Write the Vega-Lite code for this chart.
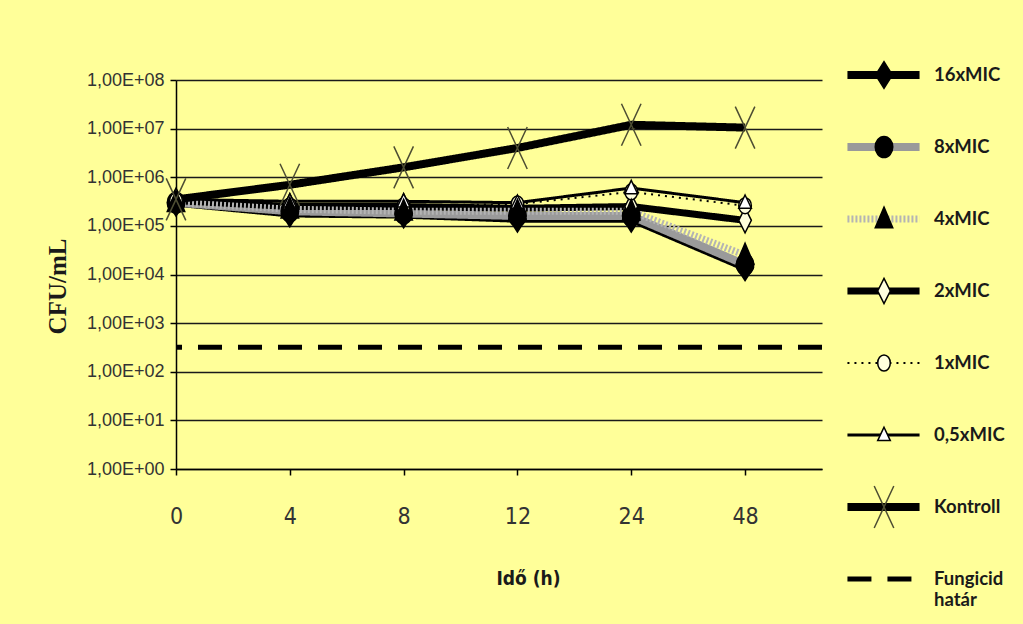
{
  "$schema": "https://vega.github.io/schema/vega-lite/v6.json",
  "width": 646,
  "height": 389,
  "autosize": {"type": "none"},
  "padding": {"left": 176, "top": 80, "right": 201, "bottom": 155},
  "background": "#FFFF99",
  "datasets": {
    "curves": [
      {"series": "16xMIC", "t": 0, "cfu": 300000},
      {"series": "16xMIC", "t": 4, "cfu": 180000},
      {"series": "16xMIC", "t": 8, "cfu": 170000},
      {"series": "16xMIC", "t": 12, "cfu": 140000},
      {"series": "16xMIC", "t": 24, "cfu": 140000},
      {"series": "16xMIC", "t": 48, "cfu": 14000},
      {"series": "8xMIC", "t": 0, "cfu": 300000},
      {"series": "8xMIC", "t": 4, "cfu": 200000},
      {"series": "8xMIC", "t": 8, "cfu": 180000},
      {"series": "8xMIC", "t": 12, "cfu": 160000},
      {"series": "8xMIC", "t": 24, "cfu": 160000},
      {"series": "8xMIC", "t": 48, "cfu": 16000},
      {"series": "2xMIC", "t": 0, "cfu": 330000},
      {"series": "2xMIC", "t": 4, "cfu": 250000},
      {"series": "2xMIC", "t": 8, "cfu": 250000},
      {"series": "2xMIC", "t": 12, "cfu": 230000},
      {"series": "2xMIC", "t": 24, "cfu": 250000},
      {"series": "2xMIC", "t": 48, "cfu": 130000},
      {"series": "1xMIC", "t": 0, "cfu": 330000},
      {"series": "1xMIC", "t": 4, "cfu": 260000},
      {"series": "1xMIC", "t": 8, "cfu": 260000},
      {"series": "1xMIC", "t": 12, "cfu": 280000},
      {"series": "1xMIC", "t": 24, "cfu": 500000},
      {"series": "1xMIC", "t": 48, "cfu": 260000},
      {"series": "0,5xMIC", "t": 0, "cfu": 350000},
      {"series": "0,5xMIC", "t": 4, "cfu": 320000},
      {"series": "0,5xMIC", "t": 8, "cfu": 320000},
      {"series": "0,5xMIC", "t": 12, "cfu": 300000},
      {"series": "0,5xMIC", "t": 24, "cfu": 600000},
      {"series": "0,5xMIC", "t": 48, "cfu": 300000},
      {"series": "4xMIC", "t": 0, "cfu": 300000},
      {"series": "4xMIC", "t": 4, "cfu": 220000},
      {"series": "4xMIC", "t": 8, "cfu": 200000},
      {"series": "4xMIC", "t": 12, "cfu": 200000},
      {"series": "4xMIC", "t": 24, "cfu": 200000},
      {"series": "4xMIC", "t": 48, "cfu": 25000},
      {"series": "Kontroll", "t": 0, "cfu": 350000},
      {"series": "Kontroll", "t": 4, "cfu": 700000},
      {"series": "Kontroll", "t": 8, "cfu": 1600000},
      {"series": "Kontroll", "t": 12, "cfu": 4000000},
      {"series": "Kontroll", "t": 24, "cfu": 12000000},
      {"series": "Kontroll", "t": 48, "cfu": 10500000}
    ],
    "limit": [
      {"series": "Fungicid határ", "cfu": 320}
    ]
  },
  "layer": [
    {
      "data": {"name": "limit"},
      "mark": {"type": "rule"},
      "encoding": {
        "y": {"field": "cfu", "type": "quantitative", "scale": {"type": "log", "domain": [1, 100000000], "nice": false}},
        "color": {"field": "series", "type": "nominal",
          "scale": {"domain": ["16xMIC", "8xMIC", "4xMIC", "2xMIC", "1xMIC", "0,5xMIC", "Kontroll", "Fungicid határ"],
                    "range": ["#000000", "#9a9a9a", "#b4b4b4", "#000000", "#000000", "#000000", "#000000", "#000000"]},
          "legend": {"title": null, "orient": "none", "direction": "vertical", "columns": 1, "legendX": 667, "legendY": -40, "clipHeight": 70, "symbolType": "stroke", "symbolSize": 5200, "rowPadding": 2, "labelOffset": 10, "labelFont": "Lato", "labelFontWeight": "bold", "labelFontSize": 18.5, "labelColor": "#1a1a1a", "padding": 0, "labelExpr": "datum.label == 'Fungicid határ' ? ['Fungicid', 'határ'] : datum.label"}},
        "strokeDash": {"field": "series", "type": "nominal",
          "scale": {"domain": ["16xMIC", "8xMIC", "4xMIC", "2xMIC", "1xMIC", "0,5xMIC", "Kontroll", "Fungicid határ"],
                    "range": [[1, 0], [1, 0], [2, 2], [1, 0], [2, 5], [1, 0], [1, 0], [24, 16]]},
          "legend": {"title": null, "orient": "none", "direction": "vertical", "columns": 1, "legendX": 667, "legendY": -40, "clipHeight": 70, "symbolType": "stroke", "symbolSize": 5200, "rowPadding": 2, "labelOffset": 10, "labelFont": "Lato", "labelFontWeight": "bold", "labelFontSize": 18.5, "labelColor": "#1a1a1a", "padding": 0, "labelExpr": "datum.label == 'Fungicid határ' ? ['Fungicid', 'határ'] : datum.label"}},
        "strokeWidth": {"field": "series", "type": "nominal",
          "scale": {"type": "ordinal", "domain": ["16xMIC", "8xMIC", "4xMIC", "2xMIC", "1xMIC", "0,5xMIC", "Kontroll", "Fungicid határ"],
                    "range": [8, 8, 7, 7, 2, 3, 8, 5]},
          "legend": {"title": null, "orient": "none", "direction": "vertical", "columns": 1, "legendX": 667, "legendY": -40, "clipHeight": 70, "symbolType": "stroke", "symbolSize": 5200, "rowPadding": 2, "labelOffset": 10, "labelFont": "Lato", "labelFontWeight": "bold", "labelFontSize": 18.5, "labelColor": "#1a1a1a", "padding": 0, "labelExpr": "datum.label == 'Fungicid határ' ? ['Fungicid', 'határ'] : datum.label"}}
      }
    },
    {
      "data": {"name": "curves"},
      "mark": {"type": "line"},
      "encoding": {
        "x": {"field": "t", "type": "ordinal", "scale": {"type": "point", "padding": 0.338, "align": 0},
          "axis": {"title": "Idő (h)", "titleFont": "DejaVu Sans Condensed, Liberation Sans, sans-serif", "titleFontWeight": "bold", "titleFontSize": 19, "titleColor": "#1a1a1a", "titleX": 352, "titleY": 109, "titleBaseline": "middle",
                   "labelFont": "DejaVu Sans Condensed, Liberation Sans, sans-serif", "labelFontSize": 23, "labelColor": "#333333", "labelPadding": 30, "labelAngle": 0,
                   "tickSize": 6, "tickColor": "#000000", "tickWidth": 1.5, "domainColor": "#000000", "domainWidth": 1.5, "grid": false}},
        "y": {"field": "cfu", "type": "quantitative", "scale": {"type": "log", "domain": [1, 100000000], "nice": false},
          "axis": {"title": "CFU/mL", "titleFont": "Liberation Serif", "titleFontWeight": "bold", "titleFontSize": 25, "titleColor": "#1a1a1a", "titleX": -119, "titleY": 206, "titleBaseline": "middle",
                   "values": [1, 10, 100, 1000, 10000, 100000, 1000000, 10000000, 100000000],
                   "labelExpr": "'1,00E+0' + format(log(datum.value) / LN10, '.0f')",
                   "labelFont": "Liberation Sans", "labelFontSize": 18, "labelColor": "#333333", "labelPadding": 6,
                   "tickSize": 6, "tickColor": "#000000", "tickWidth": 1.5, "domainColor": "#000000", "domainWidth": 1.5,
                   "grid": true, "gridColor": "#1a1a1a", "gridWidth": 1.5}},
        "color": {"field": "series", "type": "nominal",
          "scale": {"domain": ["16xMIC", "8xMIC", "4xMIC", "2xMIC", "1xMIC", "0,5xMIC", "Kontroll", "Fungicid határ"],
                    "range": ["#000000", "#9a9a9a", "#b4b4b4", "#000000", "#000000", "#000000", "#000000", "#000000"]},
          "legend": {"title": null, "orient": "none", "direction": "vertical", "columns": 1, "legendX": 667, "legendY": -40, "clipHeight": 70, "symbolType": "stroke", "symbolSize": 5200, "rowPadding": 2, "labelOffset": 10, "labelFont": "Lato", "labelFontWeight": "bold", "labelFontSize": 18.5, "labelColor": "#1a1a1a", "padding": 0, "labelExpr": "datum.label == 'Fungicid határ' ? ['Fungicid', 'határ'] : datum.label"}},
        "strokeDash": {"field": "series", "type": "nominal",
          "scale": {"domain": ["16xMIC", "8xMIC", "4xMIC", "2xMIC", "1xMIC", "0,5xMIC", "Kontroll", "Fungicid határ"],
                    "range": [[1, 0], [1, 0], [2, 2], [1, 0], [2, 5], [1, 0], [1, 0], [24, 16]]},
          "legend": {"title": null, "orient": "none", "direction": "vertical", "columns": 1, "legendX": 667, "legendY": -40, "clipHeight": 70, "symbolType": "stroke", "symbolSize": 5200, "rowPadding": 2, "labelOffset": 10, "labelFont": "Lato", "labelFontWeight": "bold", "labelFontSize": 18.5, "labelColor": "#1a1a1a", "padding": 0, "labelExpr": "datum.label == 'Fungicid határ' ? ['Fungicid', 'határ'] : datum.label"}},
        "strokeWidth": {"field": "series", "type": "nominal",
          "scale": {"type": "ordinal", "domain": ["16xMIC", "8xMIC", "4xMIC", "2xMIC", "1xMIC", "0,5xMIC", "Kontroll", "Fungicid határ"],
                    "range": [8, 8, 7, 7, 2, 3, 8, 5]},
          "legend": {"title": null, "orient": "none", "direction": "vertical", "columns": 1, "legendX": 667, "legendY": -40, "clipHeight": 70, "symbolType": "stroke", "symbolSize": 5200, "rowPadding": 2, "labelOffset": 10, "labelFont": "Lato", "labelFontWeight": "bold", "labelFontSize": 18.5, "labelColor": "#1a1a1a", "padding": 0, "labelExpr": "datum.label == 'Fungicid határ' ? ['Fungicid', 'határ'] : datum.label"}}
      }
    },
    {
      "data": {"name": "curves"},
      "mark": {"type": "point", "size": 4900, "strokeWidth": 1.5, "opacity": 1},
      "encoding": {
        "x": {"field": "t", "type": "ordinal"},
        "y": {"field": "cfu", "type": "quantitative"},
        "shape": {"field": "series", "type": "nominal",
          "scale": {"domain": ["16xMIC", "8xMIC", "4xMIC", "2xMIC", "1xMIC", "0,5xMIC", "Kontroll"],
                    "range": ["M0,-0.38L0.24,0L0,0.38L-0.24,0Z",
                              "M-0.25,0A0.25,0.3 0 1,0 0.25,0A0.25,0.3 0 1,0 -0.25,0Z",
                              "M0,-0.34L0.25,0.25L-0.25,0.25Z",
                              "M0,-0.36L0.18,0L0,0.36L-0.18,0Z",
                              "M-0.18,0A0.18,0.23 0 1,0 0.18,0A0.18,0.23 0 1,0 -0.18,0Z",
                              "M0,-0.22L0.18,0.16L-0.18,0.16Z",
                              "M-0.28,-0.6L0.28,0.6M-0.28,0.6L0.28,-0.6"]},
          "legend": {"title": null, "orient": "none", "direction": "vertical", "columns": 1, "legendX": 672, "legendY": -40, "clipHeight": 70, "symbolSize": 4900, "symbolStrokeWidth": 1.5, "rowPadding": 2, "labelOffset": 10, "labelFont": "Lato", "labelFontSize": 18, "labelExpr": "''", "padding": 0}},
        "fill": {"field": "series", "type": "nominal",
          "scale": {"domain": ["16xMIC", "8xMIC", "4xMIC", "2xMIC", "1xMIC", "0,5xMIC", "Kontroll"],
                    "range": ["#000000", "#000000", "#000000", "#FFFFDD", "#FFFFDD", "#FFFFFF", "transparent"]},
          "legend": {"title": null, "orient": "none", "direction": "vertical", "columns": 1, "legendX": 672, "legendY": -40, "clipHeight": 70, "symbolSize": 4900, "symbolStrokeWidth": 1.5, "rowPadding": 2, "labelOffset": 10, "labelFont": "Lato", "labelFontSize": 18, "labelExpr": "''", "padding": 0}},
        "stroke": {"field": "series", "type": "nominal",
          "scale": {"domain": ["16xMIC", "8xMIC", "4xMIC", "2xMIC", "1xMIC", "0,5xMIC", "Kontroll"],
                    "range": ["#000000", "#000000", "#000000", "#000000", "#000000", "#000000", "#4d4d33"]},
          "legend": {"title": null, "orient": "none", "direction": "vertical", "columns": 1, "legendX": 672, "legendY": -40, "clipHeight": 70, "symbolSize": 4900, "symbolStrokeWidth": 1.5, "rowPadding": 2, "labelOffset": 10, "labelFont": "Lato", "labelFontSize": 18, "labelExpr": "''", "padding": 0}}
      }
    }
  ],
  "config": {
    "view": {"stroke": null}
  }
}
